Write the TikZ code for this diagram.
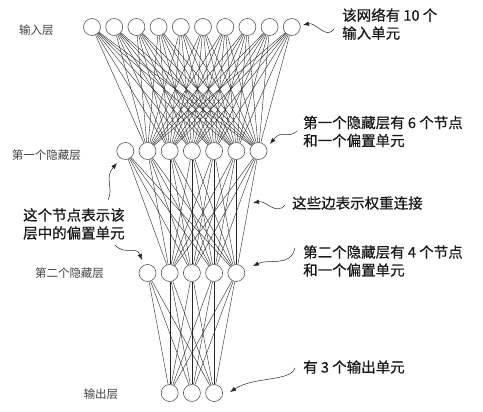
\documentclass[tikz,border=0pt]{standalone}
\usepackage{fontspec}
\newfontfamily\cjk{Noto Sans CJK SC}
\newfontfamily\cjkb[FakeBold=0.6]{Noto Sans CJK SC}
\usetikzlibrary{arrows.meta}
\begin{document}
\begin{tikzpicture}[x=1pt,y=-1pt,
  neuron/.style={circle,draw=black!65,fill=white,line width=0.6pt,minimum size=17pt,inner sep=0pt},
  edge/.style={black!85,line width=0.4pt},
  layerlabel/.style={font=\cjk\fontsize{11.5}{14}\selectfont,text=black!75,inner sep=0pt},
  note/.style={font=\cjkb\fontsize{14.5}{18}\selectfont,text=black!90,align=left,inner sep=0pt,anchor=west},
  pointer/.style={-{Latex[length=6pt,width=4.5pt]},black!85,line width=0.5pt}]
\useasboundingbox (0,0) rectangle (483,412);
% layers
\foreach \i in {0,...,9} \node[neuron] (i\i) at ({92+22.2*\i},27) {};
\foreach \i in {0,...,6} \node[neuron] (h\i) at ({125.3+22.2*\i},151) {};
\foreach \i in {0,...,4} \node[neuron] (g\i) at ({147.5+22.2*\i},273) {};
\foreach \i in {0,...,2} \node[neuron] (o\i) at ({169.7+22.2*\i},393) {};
% weights
\foreach \a in {0,...,9} \foreach \b in {1,...,6} \draw[edge] (i\a) -- (h\b);
\foreach \a in {0,...,6} \foreach \b in {1,...,4} \draw[edge] (h\a) -- (g\b);
\foreach \a in {0,...,4} \foreach \b in {0,...,2} \draw[edge] (g\a) -- (o\b);
% layer labels
\node[layerlabel] (l1) at (36.5,30) {输入层};
\node[layerlabel] (l2) at (46.5,155) {第一个隐藏层};
\node[layerlabel] (l3) at (69.5,273) {第二个隐藏层};
\node[layerlabel] (l4) at (101,394) {输出层};
% notes
\node[note] (n1) at (342,24) {该网络有 10 个\\输入单元};
\node[note] (n2) at (303,131.5) {第一个隐藏层有 6 个节点\\和一个偏置单元};
\node[note] (n3) at (292,203) {这些边表示权重连接};
\node[note] (n4) at (23,224) {这个节点表示该\\层中的偏置单元};
\node[note] (n5) at (303,261) {第二个隐藏层有 4 个节点\\和一个偏置单元};
\node[note] (n6) at (303,367) {有 3 个输出单元};
% pointer coordinates
\coordinate (s1) at (334,29);  \coordinate (t1) at (303,25);
\coordinate (s2) at (297,131); \coordinate (t2) at (270,144);
\coordinate (s3) at (285,205); \coordinate (t3) at (253,203);
\coordinate (s4) at (108,200); \coordinate (t4) at (117,163);
\coordinate (s5) at (115,245); \coordinate (t5) at (142,260);
\coordinate (s6) at (295,248); \coordinate (t6) at (253,266);
\coordinate (s7) at (295,368); \coordinate (t7) at (230,392);
\draw[pointer] (s1) .. controls (326,40) and (316,22) .. (t1);
\draw[pointer] (s2) .. controls (287,140) and (283,128) .. (t2);
\draw[pointer] (s3) .. controls (276,216) and (266,200) .. (t3);
\draw[pointer] (s4) .. controls (114,188) and (104,178) .. (t4);
\draw[pointer] (s5) .. controls (125,256) and (136,245) .. (t5);
\draw[pointer] (s6) .. controls (290,268) and (270,258) .. (t6);
\draw[pointer] (s7) .. controls (290,382) and (255,376) .. (t7);
\end{tikzpicture}
\end{document}
